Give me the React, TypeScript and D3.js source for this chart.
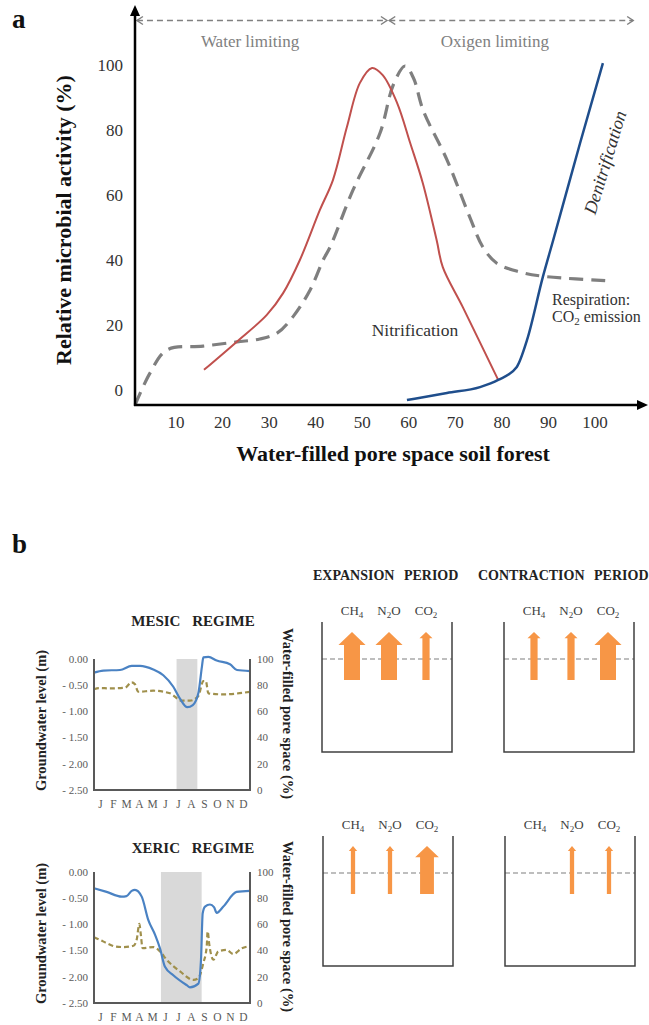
import React from "react";
import * as d3 from "d3";

// ---------------- Panel a data ----------------
const wfpsTicks = [10, 20, 30, 40, 50, 60, 70, 80, 90, 100];
const activityTicks = [0, 20, 40, 60, 80, 100];

const nitrificationWfps = [16, 23, 29.5, 33, 36.6, 40.9, 43.7, 46.7, 49.5, 52.1, 54.4, 57.5, 60.3, 63, 66, 67.3, 71.6, 79.2];
const nitrificationActivity = [6.2, 14.8, 23.1, 29.8, 40, 55.4, 64.6, 80.9, 94.5, 99.1, 96.9, 88.3, 76, 63.7, 46, 37.8, 25.5, 3.1];

const respirationWfps = [1.2, 4.4, 8, 15.8, 23.1, 28, 31.7, 35.1, 38.8, 41.6, 43.1, 48, 53.8, 56.7, 59.2, 61, 63.1, 68.2, 73.1, 75.9, 78.9, 83.9, 88.8, 103.9];
const respirationActivity = [-4.6, 5.2, 12.3, 13.5, 14.8, 15.7, 17.5, 22.5, 30.8, 40, 44, 61.5, 79, 94, 99.7, 96, 86, 70.8, 53.2, 44, 39, 36.3, 35, 33.5];

const denitrificationWfps = [59.6, 68.2, 75.3, 79.2, 83.2, 85.4, 88.8, 91, 96.8, 101.7];
const denitrificationActivity = [-3.1, -0.9, 0.9, 3.1, 7.1, 15.4, 34.8, 46, 76, 100.6];

const regimeLabels = ["Water limiting", "Oxigen limiting"];
const regimeStart = [1.6, 55.8];
const regimeEnd = [55.3, 108.2];
const regimeLabelAt = [25.9, 78.5];

// ---------------- Panel b data ----------------
const months = ["J", "F", "M", "A", "M", "J", "J", "A", "S", "O", "N", "D"];
const groundwaterTicks = [0, -0.5, -1, -1.5, -2, -2.5];
const groundwaterTickLabels = ["0.00", "- 0.50", "- 1.00", "- 1.50", "- 2.00", "- 2.50"];
const wfpsPctTicks = [100, 80, 60, 40, 20, 0];

const mesicGwMonth = [0, 0.72, 2.0, 2.9, 3.54, 4.56, 5.33, 6.1, 6.6, 7.18, 7.6, 8.03, 8.3, 8.41, 8.8, 9.44, 10.46, 11, 12];
const mesicGwLevel = [-0.26, -0.22, -0.21, -0.13, -0.13, -0.2, -0.31, -0.53, -0.75, -0.92, -0.88, -0.65, -0.15, 0.03, 0.04, -0.03, -0.1, -0.21, -0.23];
const mesicWfpsMonth = [0, 0.4, 1.23, 2.38, 2.9, 3.15, 3.4, 4.56, 5.85, 6.74, 7.38, 8.03, 8.41, 8.6, 8.8, 9.95, 12];
const mesicWfps = [76.9, 77.8, 77.6, 78, 82.2, 80.7, 75, 75.8, 73.8, 68.2, 68.2, 71.8, 83.2, 83.2, 73.8, 73, 75];
const mesicDryPeriod = [6.35, 7.95];

const xericGwMonth = [0, 0.97, 2.13, 2.5, 2.9, 3.15, 3.67, 4.18, 4.7, 5.08, 5.46, 6.1, 7.13, 7.38, 8.03, 8.23, 8.36, 8.54, 8.92, 9.23, 9.44, 9.95, 10.97, 12];
const xericGwLevel = [-0.31, -0.38, -0.47, -0.46, -0.36, -0.34, -0.47, -0.92, -1.2, -1.46, -1.81, -1.97, -2.16, -2.2, -2.13, -1.68, -0.79, -0.66, -0.62, -0.67, -0.78, -0.66, -0.38, -0.36];
const xericWfpsMonth = [0, 0.46, 0.97, 1.62, 2.25, 3.03, 3.28, 3.49, 3.59, 3.74, 4.56, 5.08, 5.59, 6.62, 7.64, 8.03, 8.41, 8.67, 8.74, 8.87, 9.18, 9.56, 10.2, 10.72, 11.36, 12];
const xericWfps = [50.2, 48.2, 45.7, 43.2, 42.7, 43.7, 48.2, 60.4, 53.3, 41.8, 42.7, 39.4, 33, 24.1, 17.6, 19, 30.5, 43.2, 54.7, 44.5, 33, 39.4, 40.5, 37.4, 41.7, 43.5];
const xericDryPeriod = [5.15, 8.28];

const gases = ["CH4", "N2O", "CO2"];
const mesicExpansionFlux = [3, 3, 1.35];
const mesicContractionFlux = [1.35, 1.35, 3];
const xericExpansionFlux = [0.8, 0.8, 2.6];
const xericContractionFlux = [0, 0.8, 0.8];

// ---------------- styles ----------------
const FONT = "'Liberation Serif', 'Times New Roman', serif";
const ORANGE = "#F79646";
const BOXLINE = "#404040";
const AXIS_GRAY = "#595959";

function GasLabel({ name, x, y }: { name: string; x: number; y: number }) {
  const parts = name.match(/[A-Z]+|\d/g) || [];
  return (
    <text x={x} y={y} textAnchor="middle" fontSize={13} fill="#404040">
      {parts.map((p, i) =>
        /\d/.test(p) ? (
          <tspan key={i} fontSize={9} dy={3}>{p}</tspan>
        ) : (
          <tspan key={i} dy={i > 0 && /\d/.test(parts[i - 1]) ? -3 : 0}>{p}</tspan>
        )
      )}
    </text>
  );
}

function FluxBox({ left, top, flux }: { left: number; top: number; flux: number[] }) {
  const w = 130;
  const h = 130;
  const slot = d3.scalePoint<string>().domain(gases).range([left + 30, left + 104]);
  const shaft = d3.scaleLinear().domain([0, 3]).range([0, 16]);
  const tipY = top + 10;
  const baseY = top + 58;
  return (
    <g>
      {gases.map((g) => (
        <GasLabel key={g} name={g} x={slot(g) as number} y={top - 7} />
      ))}
      <line x1={left} x2={left + w} y1={top + 37} y2={top + 37} stroke="#7f7f7f" strokeWidth={1.2} strokeDasharray="5 3" />
      {gases.map((g, i) => {
        const f = flux[i];
        if (f <= 0) return null;
        const cx = slot(g) as number;
        const sw = shaft(f);
        const hw = sw * 1.6 + 1.5;
        const hl = Math.max(5, hw * 0.48);
        const d = `M${cx - sw / 2},${baseY} L${cx - sw / 2},${tipY + hl} L${cx - hw / 2},${tipY + hl} L${cx},${tipY} L${cx + hw / 2},${tipY + hl} L${cx + sw / 2},${tipY + hl} L${cx + sw / 2},${baseY} Z`;
        return <path key={g} d={d} fill={ORANGE} />;
      })}
      <path d={`M${left},${top} L${left},${top + h} L${left + w},${top + h} L${left + w},${top}`} fill="none" stroke={BOXLINE} strokeWidth={1.5} />
    </g>
  );
}

function Regime(props: {
  title: string; titleY: number; top: number;
  gwM: number[]; gwL: number[]; wfM: number[]; wfV: number[]; dry: number[];
}) {
  const { title, titleY, top, gwM, gwL, wfM, wfV, dry } = props;
  const left = 94, right = 250, height = 131;
  const x = d3.scaleLinear().domain([0, 12]).range([left, right]);
  const yL = d3.scaleLinear().domain([-2.5, 0]).range([top + height, top]);
  const yR = d3.scaleLinear().domain([0, 100]).range([top + height, top]);
  const gwLine = d3.line<number>().x((_, i) => x(gwM[i])).y((d) => yL(d)).curve(d3.curveMonotoneX);
  const wfLine = d3.line<number>().x((_, i) => x(wfM[i])).y((d) => yR(d)).curve(d3.curveMonotoneX);
  const midY = top + height / 2;
  return (
    <g>
      <text x={193} y={titleY} textAnchor="middle" fontWeight="bold" fontSize={15} fill="#222" wordSpacing={8}>
        {title}
      </text>
      <rect x={x(dry[0])} y={top} width={x(dry[1]) - x(dry[0])} height={height} fill="#D9D9D9" />
      <path d={wfLine(wfV) || ""} fill="none" stroke="#A0904C" strokeWidth={2.2} strokeDasharray="5 3" />
      <path d={gwLine(gwL) || ""} fill="none" stroke="#4A82C3" strokeWidth={2.2} />
      <path d={`M${left},${top} L${left},${top + height} L${right},${top + height} L${right},${top}`} fill="none" stroke={AXIS_GRAY} strokeWidth={2} />
      {groundwaterTicks.map((t, i) => (
        <text key={t} x={88} y={yL(t)} dy="0.35em" textAnchor="end" fontSize={11} fill={AXIS_GRAY}>
          {groundwaterTickLabels[i]}
        </text>
      ))}
      {wfpsPctTicks.map((t) => (
        <text key={t} x={257} y={yR(t)} dy="0.35em" textAnchor="start" fontSize={11} fill={AXIS_GRAY}>
          {t}
        </text>
      ))}
      {months.map((m, i) => (
        <text key={i} x={x(i + 0.5)} y={top + height + 18} textAnchor="middle" fontSize={11.5} fill={AXIS_GRAY}>
          {m}
        </text>
      ))}
      <text transform={`translate(46,${midY - 4}) rotate(-90)`} textAnchor="middle" fontWeight="bold" fontSize={14.5} fill="#222">
        Groundwater level (m)
      </text>
      <text transform={`translate(283,${midY - 11}) rotate(90)`} textAnchor="middle" fontWeight="bold" fontSize={14.5} fill="#222">
        Water-filled pore space (%)
      </text>
    </g>
  );
}

export default function App() {
  const x = d3.scaleLinear().domain([0, 100]).range([129.5, 595]);
  const y = d3.scaleLinear().domain([0, 100]).range([390, 65]);
  const axisX = 135;
  const axisY = 405;
  const mk = (xs: number[], curve: d3.CurveFactory) =>
    d3.line<number>().x((_, i) => x(xs[i])).y((d) => y(d)).curve(curve);
  const redPath = mk(nitrificationWfps, d3.curveCatmullRom.alpha(0.5))(nitrificationActivity) || "";
  const grayPath = mk(respirationWfps, d3.curveCatmullRom.alpha(0.5))(respirationActivity) || "";
  const bluePath = mk(denitrificationWfps, d3.curveMonotoneX)(denitrificationActivity) || "";
  const arrowY = 20.5;

  const chevron = (px: number, dir: number) =>
    `M${px - dir * 6},${arrowY - 4} L${px},${arrowY} L${px - dir * 6},${arrowY + 4}`;

  return (
    <svg width={649} height={1025} style={{ position: "absolute", left: 0, top: 0, background: "#fff", fontFamily: FONT }}>
      {/* ---------- Panel a ---------- */}
      <text x={12} y={28} fontSize={27} fontWeight="bold" fill="#111">a</text>

      {regimeLabels.map((lab, i) => (
        <g key={lab}>
          <line x1={x(regimeStart[i])} x2={x(regimeEnd[i])} y1={arrowY} y2={arrowY} stroke="#808080" strokeWidth={1.5} strokeDasharray="6 4" />
          <path d={chevron(x(regimeStart[i]), -1)} fill="none" stroke="#808080" strokeWidth={1.5} />
          <path d={chevron(x(regimeEnd[i]), 1)} fill="none" stroke="#808080" strokeWidth={1.5} />
          <text x={x(regimeLabelAt[i])} y={47} textAnchor="middle" fontSize={17} fill="#808080">{lab}</text>
        </g>
      ))}

      <path d={grayPath} fill="none" stroke="#7f7f7f" strokeWidth={3.2} strokeDasharray="14 8" />
      <path d={redPath} fill="none" stroke="#C0504D" strokeWidth={2} />
      <path d={bluePath} fill="none" stroke="#1F4E8C" strokeWidth={2.5} />

      {/* axes */}
      <line x1={axisX} x2={axisX} y1={axisY + 1} y2={14} stroke="#000" strokeWidth={2.5} />
      <path d={`M${axisX - 5},${16} L${axisX},${5} L${axisX + 5},${16} Z`} fill="#000" />
      <line x1={axisX - 1} x2={639} y1={axisY} y2={axisY} stroke="#000" strokeWidth={2.5} />
      <path d={`M${637},${axisY - 5} L${648},${axisY} L${637},${axisY + 5} Z`} fill="#000" />

      {activityTicks.map((t) => (
        <text key={t} x={123} y={y(t)} dy="0.35em" textAnchor="end" fontSize={17} fill="#333">{t}</text>
      ))}
      {wfpsTicks.map((t) => (
        <text key={t} x={x(t)} y={428} textAnchor="middle" fontSize={17} fill="#333">{t}</text>
      ))}

      <text transform={`translate(71,220) rotate(-90)`} textAnchor="middle" fontSize={22} fontWeight="bold" fill="#111">
        Relative microbial activity (%)
      </text>
      <text x={393} y={461} textAnchor="middle" fontSize={22} fontWeight="bold" fill="#111">
        Water-filled pore space soil forest
      </text>

      <text x={415} y={336} textAnchor="middle" fontSize={17.5} fill="#333">Nitrification</text>
      <text x={552} y={305} fontSize={16} fill="#333">Respiration:</text>
      <text x={552} y={322} fontSize={16} fill="#333">
        CO<tspan fontSize={11} dy={3}>2</tspan><tspan dy={-3}> emission</tspan>
      </text>
      <text transform={`translate(607,163) rotate(-73)`} textAnchor="middle" dominantBaseline="middle" fontSize={18} fontStyle="italic" fill="#333">
        Denitrification
      </text>

      {/* ---------- Panel b ---------- */}
      <text x={12} y={553} fontSize={27} fontWeight="bold" fill="#111">b</text>
      <text x={313} y={580} fontSize={14} fontWeight="bold" fill="#222" wordSpacing={6}>EXPANSION PERIOD</text>
      <text x={478} y={580} fontSize={14} fontWeight="bold" fill="#222" wordSpacing={6}>CONTRACTION PERIOD</text>

      <FluxBox left={322} top={622} flux={mesicExpansionFlux} />
      <FluxBox left={504} top={622} flux={mesicContractionFlux} />
      <FluxBox left={323} top={836} flux={xericExpansionFlux} />
      <FluxBox left={505} top={836} flux={xericContractionFlux} />

      <Regime title="MESIC REGIME" titleY={626} top={659}
        gwM={mesicGwMonth} gwL={mesicGwLevel} wfM={mesicWfpsMonth} wfV={mesicWfps} dry={mesicDryPeriod} />
      <Regime title="XERIC REGIME" titleY={853} top={872}
        gwM={xericGwMonth} gwL={xericGwLevel} wfM={xericWfpsMonth} wfV={xericWfps} dry={xericDryPeriod} />
    </svg>
  );
}
